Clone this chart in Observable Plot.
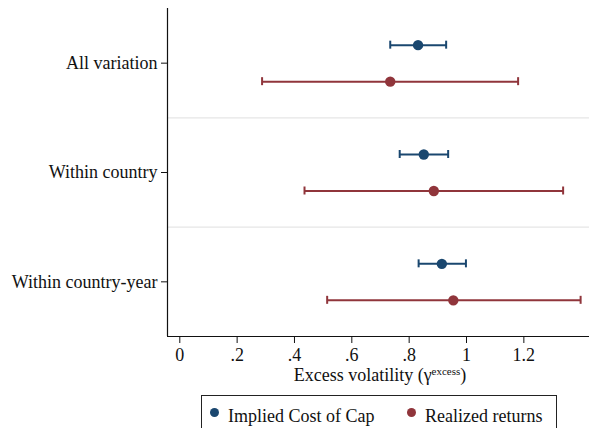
<!DOCTYPE html>
<html><head><meta charset="utf-8">
<script src="https://cdn.jsdelivr.net/npm/d3@7"></script>
<script src="https://cdn.jsdelivr.net/npm/@observablehq/plot@0.6"></script>
<style>
body{margin:0;background:#fff;font-family:"Liberation Serif","Times New Roman",serif;}
#wrap{width:589px;height:428px;overflow:hidden;position:relative;}
#wrap svg text{font-family:"Liberation Serif","Times New Roman",serif;}
.legend{position:absolute;left:201px;top:395px;width:356px;height:44px;border:1px solid #222;box-sizing:border-box;font-size:18px;color:#111;}
.sw{position:absolute;top:12px;width:9px;height:9px;border-radius:50%;}
.lt{position:absolute;top:9.6px;line-height:20px;white-space:nowrap;}
</style></head>
<body><div id="wrap"></div>
<script>
const categories = ["All variation", "Within country", "Within country-year"];
const seriesNames = ["Implied Cost of Cap", "Realized returns"];
const seriesColors = ["#1a476f", "#90353b"];
const xTicks = [0, 0.2, 0.4, 0.6, 0.8, 1.0, 1.2];
const iccEst = [0.831, 0.851, 0.914];
const iccLo  = [0.734, 0.767, 0.833];
const iccHi  = [0.929, 0.936, 0.998];
const rrEst  = [0.734, 0.886, 0.954];
const rrLo   = [0.287, 0.435, 0.514];
const rrHi   = [1.180, 1.337, 1.398];

const serif = "'Liberation Serif', 'Times New Roman', serif";
const xDomain = [-0.0429, 1.429];
const yDomain = [0.5, 3.5];

const icc = categories.map((c, i) => ({pos: i + 1, est: iccEst[i], lo: iccLo[i], hi: iccHi[i]}));
const rr  = categories.map((c, i) => ({pos: i + 1, est: rrEst[i], lo: rrLo[i], hi: rrHi[i]}));
const seps = categories.slice(1).map((c, i) => i + 1.5);

function seriesMarks(data, color, dy) {
  return [
    Plot.link(data, {x1: "lo", x2: "hi", y1: "pos", y2: "pos", stroke: color, strokeWidth: 2, dy}),
    Plot.ruleX(data, {x: "lo", y1: "pos", y2: "pos", stroke: color, strokeWidth: 2, insetTop: -4, insetBottom: -4, dy}),
    Plot.ruleX(data, {x: "hi", y1: "pos", y2: "pos", stroke: color, strokeWidth: 2, insetTop: -4, insetBottom: -4, dy}),
    Plot.dot(data, {x: "est", y: "pos", fill: color, r: 5.2, stroke: "none", dy})
  ];
}

const fmt = d => d === 0 ? "0" : String(+d.toFixed(1)).replace(/^0\./, ".");

const chart = Plot.plot({
  width: 589,
  height: 395,
  marginLeft: 167,
  marginRight: 0,
  marginTop: 8,
  marginBottom: 59,
  style: {fontFamily: serif, fontSize: "18px", background: "#fff", color: "#111"},
  x: {domain: xDomain},
  y: {domain: yDomain, reverse: true},
  marks: [
    Plot.ruleY(seps, {stroke: "#e6e6e6", strokeWidth: 1.2}),
    Plot.ruleX([xDomain[0]], {stroke: "#111", strokeWidth: 1.2}),
    Plot.ruleY([yDomain[1]], {stroke: "#111", strokeWidth: 1.2}),
    Plot.axisY({ticks: [1, 2, 3], tickFormat: d => categories[d - 1], tickSize: 6, tickPadding: 4, label: null, fontSize: 18, fontFamily: serif, stroke: "#111", strokeOpacity: 1, fill: "#111"}),
    Plot.axisX({ticks: xTicks, tickFormat: fmt, tickSize: 7, tickPadding: 5, label: null, fontSize: 18, fontFamily: serif, stroke: "#111", strokeOpacity: 1, fill: "#111"}),
    ...seriesMarks(icc, seriesColors[0], -18),
    ...seriesMarks(rr, seriesColors[1], 18.5)
  ]
});
document.getElementById("wrap").appendChild(chart);

const svg = d3.select(chart);
const t = svg.append("text").attr("x", 380).attr("y", 381).attr("text-anchor", "middle")
  .attr("font-size", 18).attr("font-family", serif).attr("fill", "#111");
t.append("tspan").text("Excess volatility (γ");
t.append("tspan").attr("font-size", 11).attr("dy", -6).text("excess");
t.append("tspan").attr("dy", 6).text(")");

const leg = d3.select("#wrap").append("div").attr("class", "legend");
const dotLefts = [7.5, 204.5];
const textLefts = [26, 223];
seriesNames.forEach((n, i) => {
  leg.append("span").attr("class", "sw").style("left", dotLefts[i] + "px").style("background", seriesColors[i]);
  leg.append("span").attr("class", "lt").style("left", textLefts[i] + "px").text(n);
});
</script></body></html>
